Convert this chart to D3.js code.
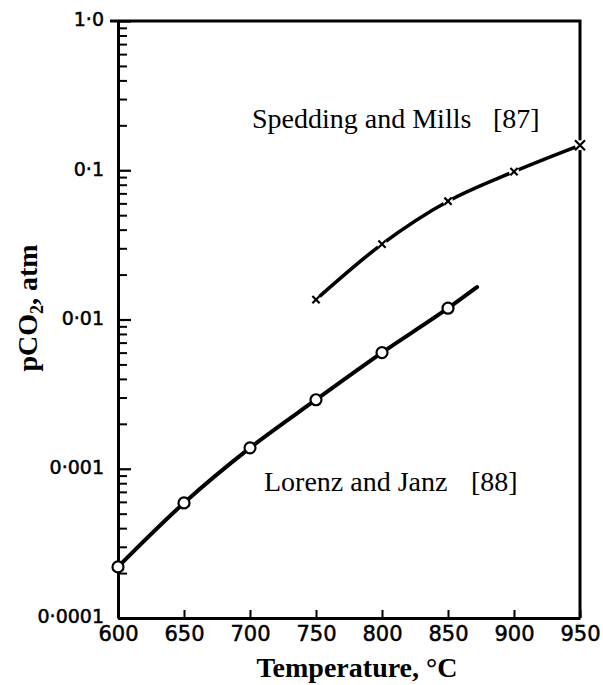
<!DOCTYPE html>
<html>
<head>
<meta charset="utf-8">
<script src="https://cdn.jsdelivr.net/npm/d3@7"></script>
<style>
  body { margin: 0; background: #fff; }
  svg { display: block; }
</style>
</head>
<body>
<div id="chart"></div>
<script>
// temperature ticks, degC
var tempTicks = [600, 650, 700, 750, 800, 850, 900, 950];

// pressure decade ticks and their printed labels
var pTicks = [1, 0.1, 0.01, 0.001, 0.0001];
var pTickLabels = ['1·0', '0·1', '0·01', '0·001', '0·0001'];

// Lorenz and Janz [88], open circles
var lorenzTemp = [600, 650, 700, 750, 800, 850];
var lorenzP = [0.00022, 0.00059, 0.00138, 0.0029, 0.0060, 0.0119];
// the drawn curve runs on a little past the last point
var lorenzEndTemp = 872;
var lorenzEndP = 0.0165;

// Spedding and Mills [87], crosses
var speddingTemp = [750, 800, 850, 900, 950];
var speddingP = [0.0136, 0.032, 0.062, 0.098, 0.147];

var width = 603, height = 685;

var svg = d3.select('#chart').append('svg')
    .attr('width', width)
    .attr('height', height);

var x = d3.scaleLinear()
    .domain([600, 950])
    .range([118, 580]);

var y = d3.scaleLog()
    .domain([0.0001, 1])
    .range([618, 21]);

var tickFont = '"DejaVu Sans", sans-serif';
var serif = '"Liberation Serif", "Times New Roman", serif';

// minor log ticks (2..9 of each decade), inward
var minor = y.ticks().filter(function(d) {
    var l = Math.log10(d);
    return Math.abs(l - Math.round(l)) > 1e-6;
});

var yMinor = svg.append('g')
    .attr('transform', 'translate(' + x.range()[0] + ',0)')
    .call(d3.axisLeft(y).tickValues(minor).tickSizeInner(-9).tickSizeOuter(0).tickFormat(''));
yMinor.select('.domain').remove();
yMinor.selectAll('line').attr('stroke', '#000').attr('stroke-width', 2);

var yAxis = svg.append('g')
    .attr('transform', 'translate(' + x.range()[0] + ',0)')
    .call(d3.axisLeft(y)
        .tickValues(pTicks)
        .tickSizeInner(-13)
        .tickSizeOuter(0)
        .tickPadding(14)
        .tickFormat(function(d, i) { return pTickLabels[i]; }));
yAxis.select('.domain').attr('stroke', '#000').attr('stroke-width', 3);
yAxis.selectAll('line').attr('stroke', '#000').attr('stroke-width', 2.2);
yAxis.selectAll('text')
    .style('font-family', tickFont)
    .style('font-size', '19px')
    .attr('fill', '#000')
    .attr('stroke', '#000')
    .attr('stroke-width', 0.5)
    .attr('dy', '0.25em');

var xAxis = svg.append('g')
    .attr('transform', 'translate(0,' + y.range()[0] + ')')
    .call(d3.axisBottom(x)
        .tickValues(tempTicks)
        .tickSizeInner(-8)
        .tickSizeOuter(0)
        .tickPadding(8)
        .tickFormat(d3.format('d')));
xAxis.select('.domain').attr('stroke', '#000').attr('stroke-width', 3);
xAxis.selectAll('line').attr('stroke', '#000').attr('stroke-width', 2);
xAxis.selectAll('text')
    .style('font-family', tickFont)
    .style('font-size', '21px')
    .attr('fill', '#000')
    .attr('stroke', '#000')
    .attr('stroke-width', 0.5);

// top and right frame
svg.append('path')
    .attr('d', 'M' + (x.range()[0] - 8) + ',' + y.range()[1] +
        'H' + x.range()[1] + 'V' + y.range()[0])
    .attr('fill', 'none')
    .attr('stroke', '#000')
    .attr('stroke-width', 3);

var line = d3.line()
    .x(function(d) { return x(d[0]); })
    .y(function(d) { return y(d[1]); })
    .curve(d3.curveMonotoneX);

var lorenzLine = lorenzTemp.map(function(t, i) { return [t, lorenzP[i]]; });
lorenzLine.push([lorenzEndTemp, lorenzEndP]);

svg.append('path')
    .datum(lorenzLine)
    .attr('d', line)
    .attr('fill', 'none')
    .attr('stroke', '#000')
    .attr('stroke-width', 4)
    .attr('stroke-linecap', 'round');

svg.append('g').selectAll('circle')
    .data(lorenzTemp)
    .enter()
    .append('circle')
    .attr('cx', function(d) { return x(d); })
    .attr('cy', function(d, i) { return y(lorenzP[i]); })
    .attr('r', 5.5)
    .attr('fill', '#fff')
    .attr('stroke', '#000')
    .attr('stroke-width', 2.2);

var speddingLine = speddingTemp.map(function(t, i) { return [t, speddingP[i]]; });

svg.append('path')
    .datum(speddingLine)
    .attr('d', line)
    .attr('fill', 'none')
    .attr('stroke', '#000')
    .attr('stroke-width', 3.6)
    .attr('stroke-linecap', 'round');

var crosses = svg.append('g').selectAll('g')
    .data(speddingTemp)
    .enter()
    .append('g')
    .attr('transform', function(d, i) {
        return 'translate(' + x(d) + ',' + y(speddingP[i]) + ')';
    });

// small breaks in the curve around each cross
crosses.append('circle')
    .attr('r', 5)
    .attr('fill', '#fff');

crosses.append('path')
    .attr('d', function(d, i) {
        var s = i === speddingTemp.length - 1 ? 5 : 3.6;
        return 'M' + (-s) + ',' + (-s) + 'L' + s + ',' + s +
            'M' + (-s) + ',' + s + 'L' + s + ',' + (-s);
    })
    .attr('stroke', '#000')
    .attr('stroke-width', 2.2);

// curve labels
svg.append('text')
    .attr('x', 252).attr('y', 128)
    .style('font-family', serif).style('font-size', '28px')
    .text('Spedding and Mills');
svg.append('text')
    .attr('x', 493).attr('y', 128)
    .style('font-family', serif).style('font-size', '28px')
    .text('[87]');

svg.append('text')
    .attr('x', 264).attr('y', 491)
    .style('font-family', serif).style('font-size', '28px')
    .text('Lorenz and Janz');
svg.append('text')
    .attr('x', 471).attr('y', 491)
    .style('font-family', serif).style('font-size', '28px')
    .text('[88]');

// axis titles
svg.append('text')
    .attr('x', 357).attr('y', 677)
    .attr('text-anchor', 'middle')
    .style('font-family', serif).style('font-size', '28px').style('font-weight', 'bold')
    .text('Temperature, °C');

var yTitle = svg.append('text')
    .attr('transform', 'translate(37,308) rotate(-90)')
    .attr('text-anchor', 'middle')
    .style('font-family', serif).style('font-size', '28px').style('font-weight', 'bold');
yTitle.append('tspan').text('pCO');
yTitle.append('tspan').attr('dy', 6).style('font-size', '18px').text('2');
yTitle.append('tspan').attr('dy', -6).text(', atm');
</script>
</body>
</html>
